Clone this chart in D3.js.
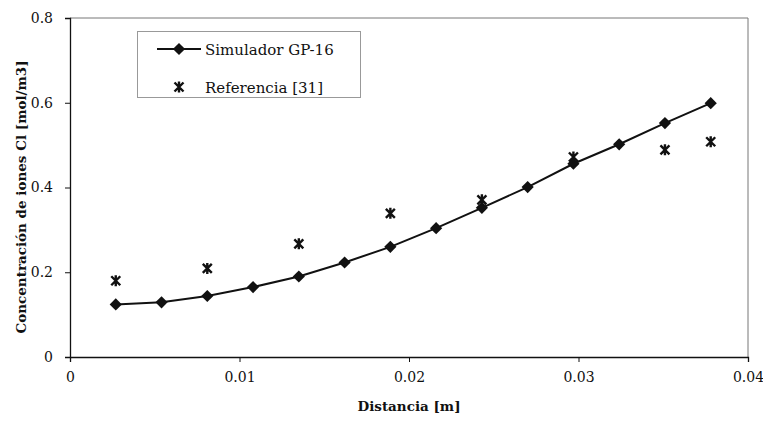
<!DOCTYPE html>
<html>
<head>
<meta charset="utf-8">
<script src="https://cdn.jsdelivr.net/npm/d3@7"></script>
<style>
  body { margin: 0; background: #fff; }
  text { font-family: "DejaVu Serif", "Liberation Serif", serif; fill: #111; }
</style>
</head>
<body>
<svg id="chart" width="763" height="423"></svg>
<script>
// distances (m)
var simX = [0.0027, 0.0054, 0.0081, 0.0108, 0.0135, 0.0162, 0.0189, 0.0216, 0.0243, 0.027, 0.0297, 0.0324, 0.0351, 0.0378];
var simY = [0.124, 0.129, 0.144, 0.165, 0.190, 0.223, 0.260, 0.304, 0.352, 0.401, 0.456, 0.502, 0.552, 0.599];
var refX = [0.0027, 0.0081, 0.0135, 0.0189, 0.0243, 0.0297, 0.0351, 0.0378];
var refY = [0.180, 0.209, 0.267, 0.339, 0.371, 0.472, 0.489, 0.508];
var xTicks = [0, 0.01, 0.02, 0.03, 0.04];
var yTicks = [0, 0.2, 0.4, 0.6, 0.8];
var seriesNames = ["Simulador GP-16", "Referencia [31]"];

var svg = d3.select("#chart");

var x = d3.scaleLinear().domain([0, 0.04]).range([70, 748]);
var y = d3.scaleLinear().domain([0, 0.8]).range([357, 18]);

// frame (top/right)
svg.append("path")
    .attr("d", "M" + x(0) + "," + y(0.8) + "H" + x(0.04) + "V" + y(0))
    .attr("fill", "none")
    .attr("stroke", "#777")
    .attr("stroke-width", 1);

var xAxis = svg.append("g")
    .attr("transform", "translate(0," + y(0) + ")")
    .call(d3.axisBottom(x).tickValues(xTicks).tickSize(5).tickPadding(10)
        .tickFormat(function(d) { return d === 0 ? "0" : d3.format(".2f")(d); }));

var yAxis = svg.append("g")
    .attr("transform", "translate(" + x(0) + ",0)")
    .call(d3.axisLeft(y).tickValues(yTicks).tickSize(5).tickPadding(12)
        .tickFormat(function(d) { return d === 0 ? "0" : d3.format(".1f")(d); }));

svg.selectAll(".domain").attr("stroke", "#111").attr("stroke-width", 1.3);
svg.selectAll(".tick line").attr("stroke", "#111");
svg.selectAll(".tick text")
    .style("font-family", "'DejaVu Serif', serif")
    .style("font-size", "14px")
    .attr("fill", "#111");

// axis titles
svg.append("text")
    .attr("x", 409)
    .attr("y", 411)
    .attr("text-anchor", "middle")
    .style("font-size", "13.5px")
    .style("font-weight", "bold")
    .text("Distancia [m]");

svg.append("text")
    .attr("transform", "translate(26,197) rotate(-90)")
    .attr("text-anchor", "middle")
    .style("font-size", "13.5px")
    .style("font-weight", "bold")
    .text("Concentración de iones Cl [mol/m3]");

// simulated line
var simData = simX.map(function(d, i) { return [d, simY[i]]; });
var refData = refX.map(function(d, i) { return [d, refY[i]]; });

var line = d3.line()
    .x(function(d) { return x(d[0]); })
    .y(function(d) { return y(d[1]); });

svg.append("path")
    .datum(simData)
    .attr("d", line)
    .attr("fill", "none")
    .attr("stroke", "#111")
    .attr("stroke-width", 2);

var diamond = d3.symbol().type(d3.symbolDiamond2).size(95);

svg.selectAll(".sim")
    .data(simData)
    .enter().append("path")
    .attr("class", "sim")
    .attr("transform", function(d) { return "translate(" + x(d[0]) + "," + y(d[1]) + ")"; })
    .attr("d", diamond)
    .attr("fill", "#111");

function star(s) {
    return "M" + (-s) + "," + (-s) + "L" + s + "," + s +
        "M" + s + "," + (-s) + "L" + (-s) + "," + s +
        "M0," + (-s - 1) + "V" + (s + 1);
}

svg.selectAll(".ref")
    .data(refData)
    .enter().append("path")
    .attr("class", "ref")
    .attr("transform", function(d) { return "translate(" + x(d[0]) + "," + y(d[1]) + ")"; })
    .attr("d", star(4.5))
    .attr("fill", "none")
    .attr("stroke", "#111")
    .attr("stroke-width", 2.4);

// legend
var legend = svg.append("g");
legend.append("rect")
    .attr("x", 137.5).attr("y", 31.5)
    .attr("width", 223).attr("height", 66)
    .attr("fill", "#fff")
    .attr("stroke", "#999")
    .attr("stroke-width", 1);

legend.append("line")
    .attr("x1", 157).attr("x2", 201)
    .attr("y1", 49).attr("y2", 49)
    .attr("stroke", "#111").attr("stroke-width", 2);
legend.append("path")
    .attr("transform", "translate(179,49)")
    .attr("d", diamond)
    .attr("fill", "#111");
legend.append("path")
    .attr("transform", "translate(179,87)")
    .attr("d", star(4.5))
    .attr("fill", "none")
    .attr("stroke", "#111")
    .attr("stroke-width", 2.4);

legend.selectAll(".lbl")
    .data(seriesNames)
    .enter().append("text")
    .attr("class", "lbl")
    .attr("x", 205)
    .attr("y", function(d, i) { return 55 + i * 38; })
    .style("font-size", "15px")
    .text(function(d) { return d; });
</script>
</body>
</html>
